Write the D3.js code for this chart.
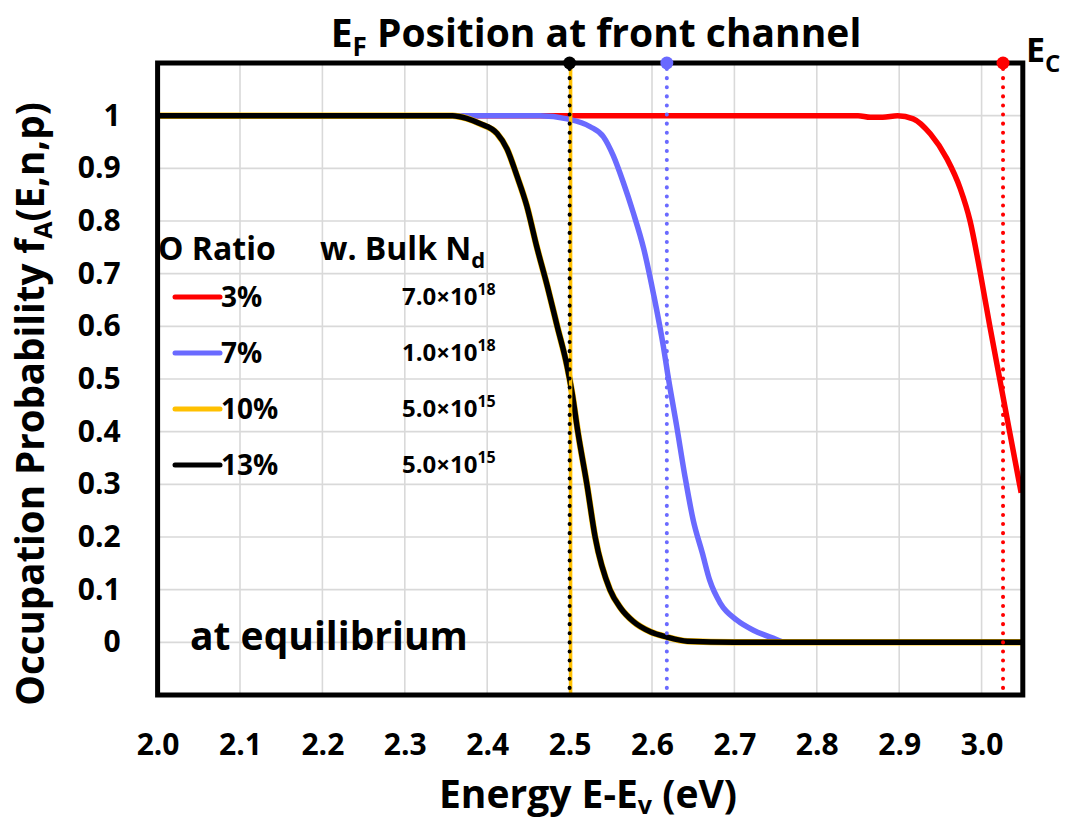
<!DOCTYPE html>
<html>
<head>
<meta charset="utf-8">
<script src="https://cdn.jsdelivr.net/npm/d3@7"></script>
<style>
  html, body { margin: 0; padding: 0; background: #fff; }
  svg { display: block; font-family: "Open Sans", Lato, sans-serif; font-weight: 700; }
</style>
</head>
<body>
<svg id="chart" width="1065" height="821"></svg>
<script>
// Occupation probability curves (energy in eV above Ev)
const energy3 = [2.0, 2.85, 2.865, 2.88, 2.898, 2.917, 2.938, 2.958, 2.974, 2.986, 2.998, 3.010, 3.022, 3.034, 3.048];
const occ3    = [1, 1, 0.997, 0.997, 1.0, 0.994, 0.965, 0.918, 0.862, 0.800, 0.705, 0.600, 0.500, 0.400, 0.284];

const energy7 = [2.0, 2.464, 2.497, 2.525, 2.541, 2.553, 2.565, 2.577, 2.590, 2.602, 2.614, 2.619, 2.630, 2.640, 2.650, 2.661, 2.670, 2.683, 2.703, 2.723, 2.747, 2.762, 3.05];
const occ7    = [1, 1, 0.994, 0.979, 0.960, 0.924, 0.874, 0.817, 0.747, 0.660, 0.560, 0.510, 0.410, 0.315, 0.232, 0.170, 0.118, 0.074, 0.042, 0.023, 0.008, 0, 0];

const energy10 = [2.0, 2.3, 2.358, 2.375, 2.391, 2.412, 2.424, 2.436, 2.448, 2.460, 2.473, 2.485, 2.497, 2.503, 2.510, 2.521, 2.531, 2.549, 2.562, 2.577, 2.598, 2.618, 2.643, 2.7, 3.05];
const occ10    = [1, 1, 1, 0.995, 0.985, 0.966, 0.937, 0.886, 0.829, 0.752, 0.676, 0.600, 0.524, 0.474, 0.40, 0.30, 0.20, 0.10, 0.065, 0.04, 0.02, 0.01, 0.002, 0, 0];

const energy13 = [2.0, 2.3, 2.358, 2.375, 2.391, 2.412, 2.424, 2.436, 2.448, 2.460, 2.473, 2.485, 2.497, 2.503, 2.510, 2.521, 2.531, 2.549, 2.562, 2.577, 2.598, 2.618, 2.643, 2.7, 3.05];
const occ13    = [1, 1, 1, 0.995, 0.985, 0.966, 0.937, 0.886, 0.829, 0.752, 0.676, 0.600, 0.524, 0.474, 0.40, 0.30, 0.20, 0.10, 0.065, 0.04, 0.02, 0.01, 0.002, 0, 0];

// Legend entries and Fermi level positions
const ratioLabels = ["3%", "7%", "10%", "13%"];
const bulkNdMantissa = ["7.0", "1.0", "5.0", "5.0"];
const bulkNdExponent = ["18", "18", "15", "15"];
const seriesColors = ["#ff0000", "#6a6aff", "#ffc000", "#000000"];
const fermiLevels = [2.5, 2.618, 3.026];      // 10%/13%, 7%, 3%
const fermiColors = ["#000000", "#6a6aff", "#ff0000"];

// Axis ticks
const xTicks = [2.0, 2.1, 2.2, 2.3, 2.4, 2.5, 2.6, 2.7, 2.8, 2.9, 3.0];
const yTicks = [0, 0.1, 0.2, 0.3, 0.4, 0.5, 0.6, 0.7, 0.8, 0.9, 1];
const yGrid = [-0.1, 0, 0.1, 0.2, 0.3, 0.4, 0.5, 0.6, 0.7, 0.8, 0.9, 1, 1.1];

const svg = d3.select("#chart");
const plotLeft = 157.6, plotRight = 1022.8, plotTop = 63, plotBottom = 695;

const x = d3.scaleLinear().domain([2.0, 3.05]).range([plotLeft, plotRight]);
const y = d3.scaleLinear().domain([-0.1, 1.1]).range([plotBottom, plotTop]);

// grid
const grid = svg.append("g").attr("stroke", "#d9d9d9").attr("stroke-width", 1.6);
grid.selectAll("line.v").data(xTicks.slice(1)).join("line")
  .attr("x1", d => x(d)).attr("x2", d => x(d)).attr("y1", plotTop).attr("y2", plotBottom);
grid.selectAll("line.h").data(yGrid).join("line")
  .attr("x1", plotLeft).attr("x2", plotRight).attr("y1", d => y(d)).attr("y2", d => y(d));

// curves
const line = d3.line().x(d => x(d[0])).y(d => y(d[1])).curve(d3.curveMonotoneX);
const series = [
  [energy3, occ3], [energy7, occ7], [energy10, occ10], [energy13, occ13]
];
series.forEach((s, i) => {
  svg.append("path")
    .datum(d3.zip(s[0], s[1]))
    .attr("d", line)
    .attr("fill", "none")
    .attr("stroke", seriesColors[i])
    .attr("stroke-width", i === 2 ? 6.5 : 5.5)
    .attr("stroke-linejoin", "round");
});

// dotted Fermi level markers
const fl = svg.append("g");
fl.append("line")
  .attr("x1", x(fermiLevels[0]) + 1).attr("x2", x(fermiLevels[0]) + 1)
  .attr("y1", plotTop).attr("y2", plotBottom)
  .attr("stroke", "#ffc000").attr("stroke-width", 3.5);
fermiLevels.forEach((e, i) => {
  fl.append("line")
    .attr("x1", x(e)).attr("x2", x(e))
    .attr("y1", plotTop + 6).attr("y2", plotBottom)
    .attr("stroke", fermiColors[i]).attr("stroke-width", 4)
    .attr("stroke-linecap", "round")
    .attr("stroke-dasharray", "0.1,9");
});

// frame
svg.append("rect")
  .attr("x", plotLeft).attr("y", plotTop)
  .attr("width", plotRight - plotLeft).attr("height", plotBottom - plotTop)
  .attr("fill", "none").attr("stroke", "#000").attr("stroke-width", 5);

// markers on the top edge
svg.selectAll("circle.ef").data(fermiLevels).join("circle")
  .attr("cx", d => x(d)).attr("cy", plotTop).attr("r", 6.5)
  .attr("fill", (d, i) => fermiColors[i]);

// axes
const xAxis = svg.append("g")
  .attr("transform", `translate(0,${plotBottom})`)
  .call(d3.axisBottom(x).tickValues(xTicks).tickFormat(d3.format(".1f")).tickSize(0).tickPadding(39));
const yAxis = svg.append("g")
  .attr("transform", `translate(${plotLeft},0)`)
  .call(d3.axisLeft(y).tickValues(yTicks).tickFormat(d => String(+d.toFixed(1))).tickSize(0).tickPadding(37));
[xAxis, yAxis].forEach(a => {
  a.select(".domain").remove();
  a.selectAll("text")
    .attr("font-family", "'Open Sans', Lato, sans-serif")
    .attr("font-weight", 700)
    .attr("font-size", 30)
    .attr("fill", "#000");
});

// title
const title = svg.append("text")
  .attr("x", 596).attr("y", 47)
  .attr("text-anchor", "middle")
  .attr("font-size", 39);
title.append("tspan").text("E");
title.append("tspan").attr("font-size", 26).attr("dy", 9).text("F");
title.append("tspan").attr("dy", -9).text(" Position at front channel");

// conduction band edge label
const ec = svg.append("text").attr("x", 1026).attr("y", 62).attr("font-size", 34);
ec.append("tspan").text("E");
ec.append("tspan").attr("font-size", 24).attr("dy", 10).text("C");

// x axis title
const xt = svg.append("text")
  .attr("x", 588).attr("y", 808)
  .attr("text-anchor", "middle")
  .attr("font-size", 39);
xt.append("tspan").text("Energy E-E");
xt.append("tspan").attr("font-size", 25).attr("dy", 6).text("v");
xt.append("tspan").attr("dy", -6).text(" (eV)");

// y axis title
const yt = svg.append("text")
  .attr("transform", "translate(44,404) rotate(-90)")
  .attr("text-anchor", "middle")
  .attr("font-size", 38.5);
yt.append("tspan").text("Occupation Probability f");
yt.append("tspan").attr("font-size", 25).attr("dy", 8).text("A");
yt.append("tspan").attr("dy", -8).text("(E,n,p)");

// legend
const lg = svg.append("g");
lg.append("text").attr("x", 158).attr("y", 260).attr("font-size", 32).text("O Ratio");
const nd = lg.append("text").attr("x", 320).attr("y", 260).attr("font-size", 32);
nd.append("tspan").text("w. Bulk N");
nd.append("tspan").attr("font-size", 22).attr("dy", 8).text("d");

ratioLabels.forEach((lab, i) => {
  const cy = 297 + i * 56;
  lg.append("line")
    .attr("x1", 175).attr("x2", 220).attr("y1", cy).attr("y2", cy)
    .attr("stroke", seriesColors[i]).attr("stroke-width", 5).attr("stroke-linecap", "round");
  lg.append("text").attr("x", 221).attr("y", cy + 10).attr("font-size", 28).text(lab);
  const v = lg.append("text").attr("x", 402).attr("y", cy + 8).attr("font-size", 24);
  v.append("tspan").text(bulkNdMantissa[i] + "\u00d710");
  v.append("tspan").attr("font-size", 16).attr("dy", -10).text(bulkNdExponent[i]);
});

// annotation
svg.append("text").attr("x", 190).attr("y", 650).attr("font-size", 39).text("at equilibrium");
</script>
</body>
</html>
